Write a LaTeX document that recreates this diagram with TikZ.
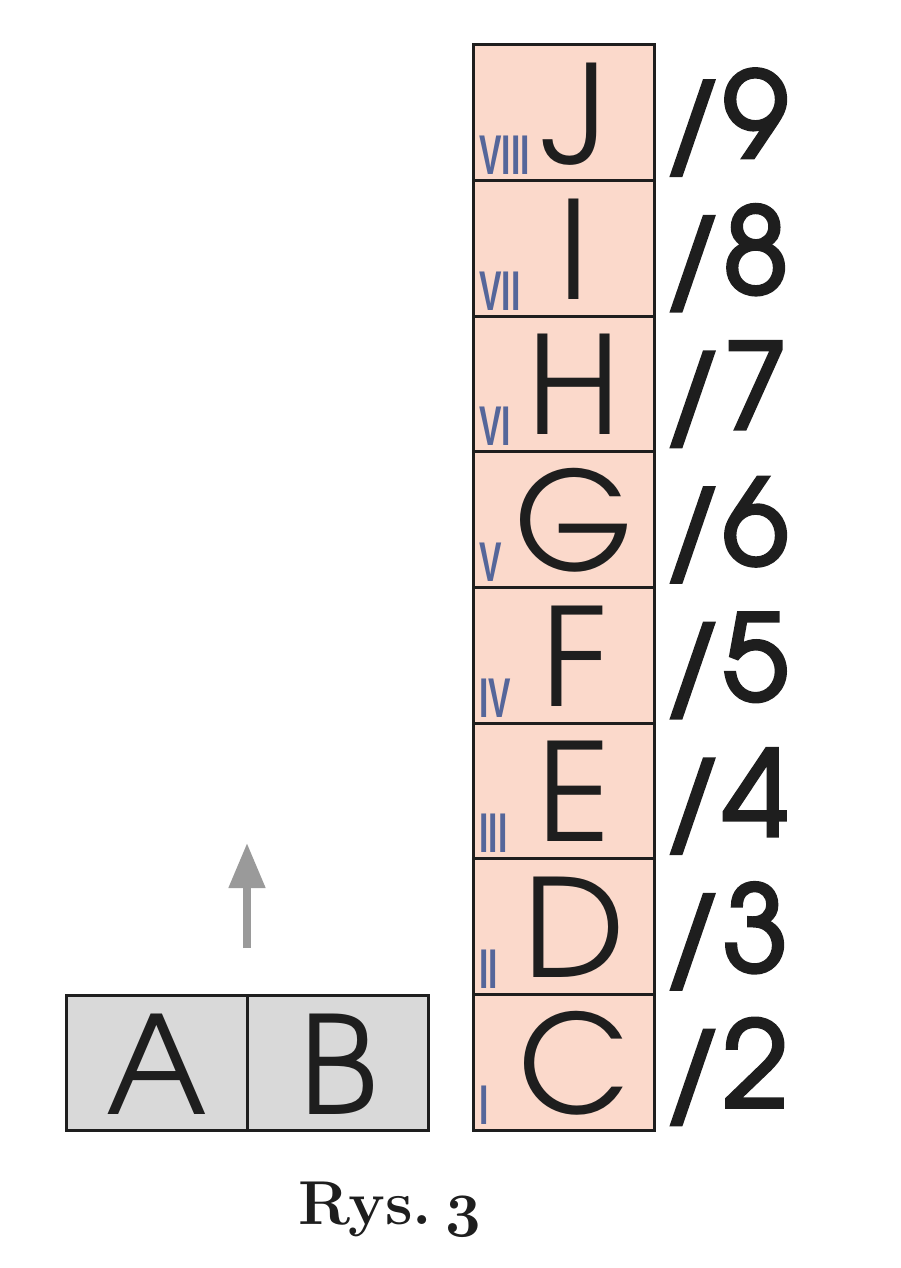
\RequirePackage{fix-cm}
\documentclass[tikz,border=0pt]{standalone}
\usepackage{fontspec}
\usetikzlibrary{arrows.meta,calc}
\newfontfamily\letterfont{texgyreadventor-regular.otf}
\newfontfamily\labelfont{texgyreadventor-regular.otf}[FakeBold=3]
\newfontfamily\romfont{Liberation Sans}[FakeStretch=0.6]
\definecolor{peach}{HTML}{FBD9CB}
\definecolor{boxgray}{HTML}{D9D9D9}
\definecolor{romblue}{HTML}{55669A}
\definecolor{arrowgray}{HTML}{9A9A9A}
\definecolor{ink}{HTML}{1E1E1E}
\tikzset{
  cellbox/.style={draw=ink, line width=1.5pt, fill=peach, minimum width=90.5pt, minimum height=67.8125pt, inner sep=0pt, outer sep=0pt},
  abbox/.style={draw=ink, line width=1.5pt, fill=boxgray, minimum width=90.5pt, minimum height=67.5pt, inner sep=0pt, outer sep=0pt},
  bigletter/.style={font=\letterfont\fontsize{68}{70}\selectfont, text=ink, inner sep=0pt},
  romnum/.style={font=\romfont\bfseries\fontsize{28}{30}\selectfont, text=romblue, inner sep=0pt},
  sidelabel/.style={font=\labelfont\fontsize{59}{62}\selectfont, text=ink, inner sep=0pt},
  upshift/.style={draw=arrowgray, line width=4pt, -{Triangle[width=17.5pt,length=22.5pt]}}
}
\begin{document}
\begin{tikzpicture}[x=0.5pt,y=-0.5pt]
\useasboundingbox (0,0) rectangle (900,1268);
% column of cells
\foreach \L/\R/\N [count=\i from 0] in {C/I/2,D/II/3,E/III/4,F/IV/5,G/V/6,H/VI/7,I/VII/8,J/VIII/9}{
  \pgfmathsetmacro\yb{1130-135.625*\i}
  \node[cellbox, anchor=south west] (cell\L) at (473,\yb) {};
  \node[bigletter, anchor=base] (let\L) at (574,\yb-17) {\L};
  \node[romnum, anchor=base west] (rom\L) at (479,\yb-6) {\R};
  \node[sidelabel, anchor=base west] (lab\L) at (662,\yb-23) {/\N};
}
% A and B boxes
\node[abbox, anchor=south west] (boxA) at (66,1130) {};
\node[abbox, anchor=south west] (boxB) at (247,1130) {};
\node[bigletter, anchor=base] (letA) at (157,1114) {A};
\node[bigletter, anchor=base] (letB) at (339,1114) {B};
% arrow
\coordinate (arrS) at (247,948);
\coordinate (arrT) at (247,843);
\draw[upshift] (arrS) -- (arrT);
% caption
\node[anchor=base, inner sep=0pt, font=\bfseries\fontsize{31}{36}\selectfont, text=ink] (cap) at (390,1224) {Rys.\hspace{0.22em}{\boldmath$\mathnormal{3}$}};
\end{tikzpicture}
\end{document}
